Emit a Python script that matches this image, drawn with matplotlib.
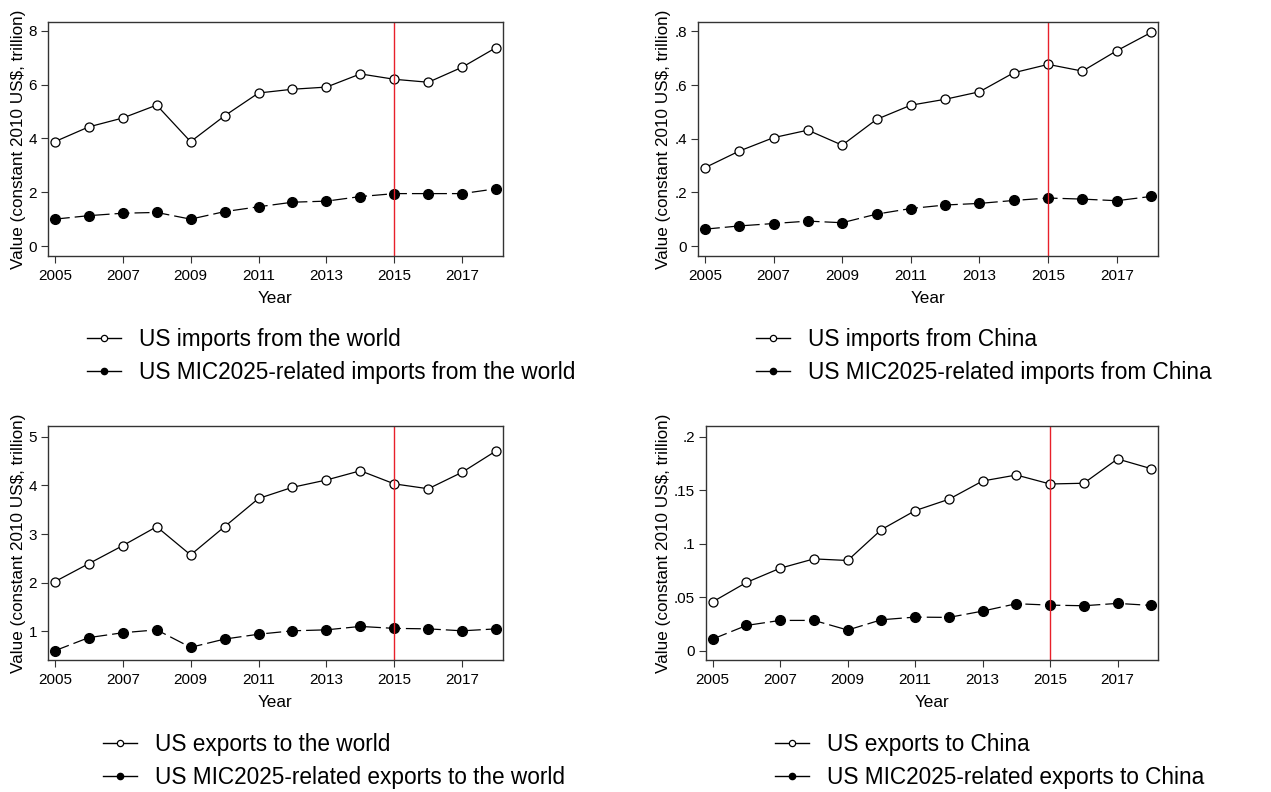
import matplotlib
matplotlib.use("Agg")
import matplotlib.pyplot as plt
import numpy as np

plt.rcParams['font.family'] = ['Liberation Sans', 'DejaVu Sans']

years = np.arange(2005, 2019)

# US imports, trillion constant 2010 US$
imp_world = [3.88, 4.43, 4.76, 5.24, 3.88, 4.84, 5.69, 5.83, 5.91, 6.40, 6.20, 6.09, 6.65, 7.38]
imp_world_mic = [1.00, 1.13, 1.22, 1.25, 1.00, 1.28, 1.46, 1.63, 1.67, 1.84, 1.95, 1.95, 1.95, 2.13]
imp_china = [.292, .354, .404, .432, .376, .472, .525, .547, .575, .646, .677, .652, .728, .796]
imp_china_mic = [.063, .075, .084, .093, .087, .119, .140, .153, .159, .170, .179, .175, .169, .185]

# US exports
exp_world = [2.02, 2.39, 2.76, 3.15, 2.57, 3.15, 3.73, 3.96, 4.11, 4.30, 4.03, 3.93, 4.27, 4.71]
exp_world_mic = [0.60, 0.87, 0.97, 1.03, 0.67, 0.84, 0.94, 1.01, 1.03, 1.10, 1.06, 1.05, 1.01, 1.05]
exp_china = [.0457, .0638, .0771, .0858, .0843, .1132, .1309, .1415, .1586, .1642, .1558, .1565, .1792, .1701]
exp_china_mic = [.0109, .0236, .0283, .0283, .0193, .0289, .0314, .0311, .0370, .0439, .0426, .0420, .0442, .0423]

panels = [
    (imp_world, imp_world_mic, "US imports from the world", "US MIC2025-related imports from the world",
     [0, 2, 4, 6, 8], ["0", "2", "4", "6", "8"], (-0.37, 8.33)),
    (imp_china, imp_china_mic, "US imports from China", "US MIC2025-related imports from China",
     [0, .2, .4, .6, .8], ["0", ".2", ".4", ".6", ".8"], (-0.037, 0.835)),
    (exp_world, exp_world_mic, "US exports to the world", "US MIC2025-related exports to the world",
     [1, 2, 3, 4, 5], ["1", "2", "3", "4", "5"], (0.41, 5.22)),
    (exp_china, exp_china_mic, "US exports to China", "US MIC2025-related exports to China",
     [0, .05, .1, .15, .2], ["0", ".05", ".1", ".15", ".2"], (-0.0087, 0.21)),
]

# axes rectangles in pixels: left, top, right, bottom
boxes = [(48, 22, 503, 256), (698, 22, 1158, 256), (48, 426, 503, 660), (706, 426, 1158, 660)]
# legend anchors (left of handle, top) in pixels
leg_pos = [(87, 328), (756, 328), (103, 733), (775, 733)]

W, H = 1271, 792
fig = plt.figure(figsize=(W / 100, H / 100), dpi=100)

for (a, b, l1, l2, yt, ytl, ylim), (x0, y0, x1, y1), (lx, ly) in zip(panels, boxes, leg_pos):
    ax = fig.add_axes([x0 / W, 1 - y1 / H, (x1 - x0) / W, (y1 - y0) / H])
    h1, = ax.plot(years, a, color='black', lw=0.9, marker='o', ms=6.5, mfc='white', mec='black', mew=0.9)
    h2, = ax.plot(years, b, color='black', lw=0.9, ls=(0, (12, 4)), marker='o', ms=7, mfc='black', mec='black')
    ax.axvline(2015, color='#e8202a', lw=1.0)
    ax.set_xlim(2004.8, 2018.2)
    ax.set_ylim(*ylim)
    ax.set_xticks(range(2005, 2018, 2))
    ax.set_yticks(yt)
    ax.set_yticklabels(ytl)
    ax.tick_params(labelsize=11, length=5, width=0.8, color='#333333', pad=3)
    ax.tick_params(axis='x', pad=4)
    for s in ax.spines.values():
        s.set_color('#333333')
        s.set_linewidth(1.0)
    ax.set_xlabel("Year", fontsize=12.3, labelpad=6)
    ax.set_ylabel("Value (constant 2010 US$, trillion)", fontsize=12.3, labelpad=2)

    leg = fig.legend([h1, h2], [l1, l2], loc='upper left', bbox_to_anchor=(lx / W, 1 - ly / H),
                     frameon=False, fontsize=16.3, handlelength=1.5, handletextpad=0.78,
                     labelspacing=0.45, borderaxespad=0, borderpad=0)
    for lh in leg.legend_handles:
        lh.set_linestyle('-')
        lh.set_markersize(4.5)
        lh.set_linewidth(1.0)

fig.savefig("out.png", dpi=100)
